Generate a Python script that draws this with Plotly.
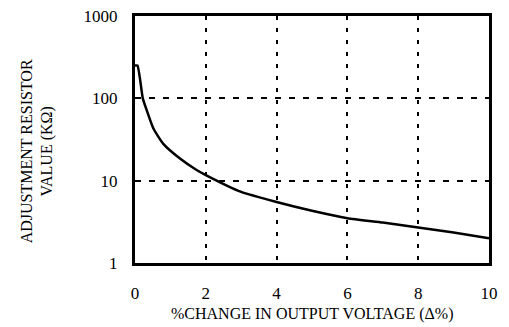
import plotly.graph_objects as go

pct_change = [0, 0.07, 0.22, 0.33, 0.52, 0.8, 1.27, 1.74, 2, 3, 4, 5, 6, 7, 8, 9, 10]
resistor_kohm = [250, 250, 100, 72, 43, 28, 18.6, 13.5, 11.7, 7.3, 5.5, 4.3, 3.5, 3.1, 2.7, 2.35, 2.0]
x_ticks = [0, 2, 4, 6, 8, 10]
y_ticks = [1, 10, 100, 1000]
y_tick_labels = ["1", "10", "100", "1000"]
x_title = "%CHANGE IN OUTPUT VOLTAGE (Δ%)"
y_title = "ADJUSTMENT RESISTOR<br>VALUE (KΩ)"

font = "Liberation Serif, Times New Roman, serif"

fig = go.Figure()
fig.add_trace(go.Scatter(
    x=pct_change, y=resistor_kohm, mode="lines",
    line=dict(color="black", width=2.5, shape="spline", smoothing=0.5),
    showlegend=False,
))

fig.update_layout(
    width=501, height=319,
    margin=dict(l=127, r=20, t=8, b=64),
    paper_bgcolor="white", plot_bgcolor="white",
    font=dict(family=font, color="black", size=16),
    xaxis=dict(
        range=[0, 10], tickvals=x_ticks, ticks="", ticklabelstandoff=13,
        showgrid=True, gridcolor="black", gridwidth=2, griddash="4px,8px",
        showline=True, linecolor="black", linewidth=3, mirror=True,
        zeroline=False, automargin=False, ticklabeloverflow="allow",
        tickfont=dict(size=17),
    ),
    yaxis=dict(
        type="log", range=[0, 3], tickvals=y_ticks, ticktext=y_tick_labels,
        ticks="", ticklabelstandoff=11,
        showgrid=True, gridcolor="black", gridwidth=2, griddash="6px,8px",
        showline=True, linecolor="black", linewidth=3, mirror=True,
        zeroline=False, automargin=False, ticklabeloverflow="allow",
        tickfont=dict(size=17),
    ),
    annotations=[
        dict(text=x_title, xref="paper", yref="paper", x=0.5, y=-0.206,
             xanchor="center", yanchor="middle", showarrow=False,
             font=dict(size=16)),
        dict(text=y_title, xref="paper", yref="paper", x=-0.277, y=0.452,
             xanchor="center", yanchor="middle", showarrow=False, textangle=-90,
             font=dict(size=16)),
    ],
)

fig.write_html("out.html")
